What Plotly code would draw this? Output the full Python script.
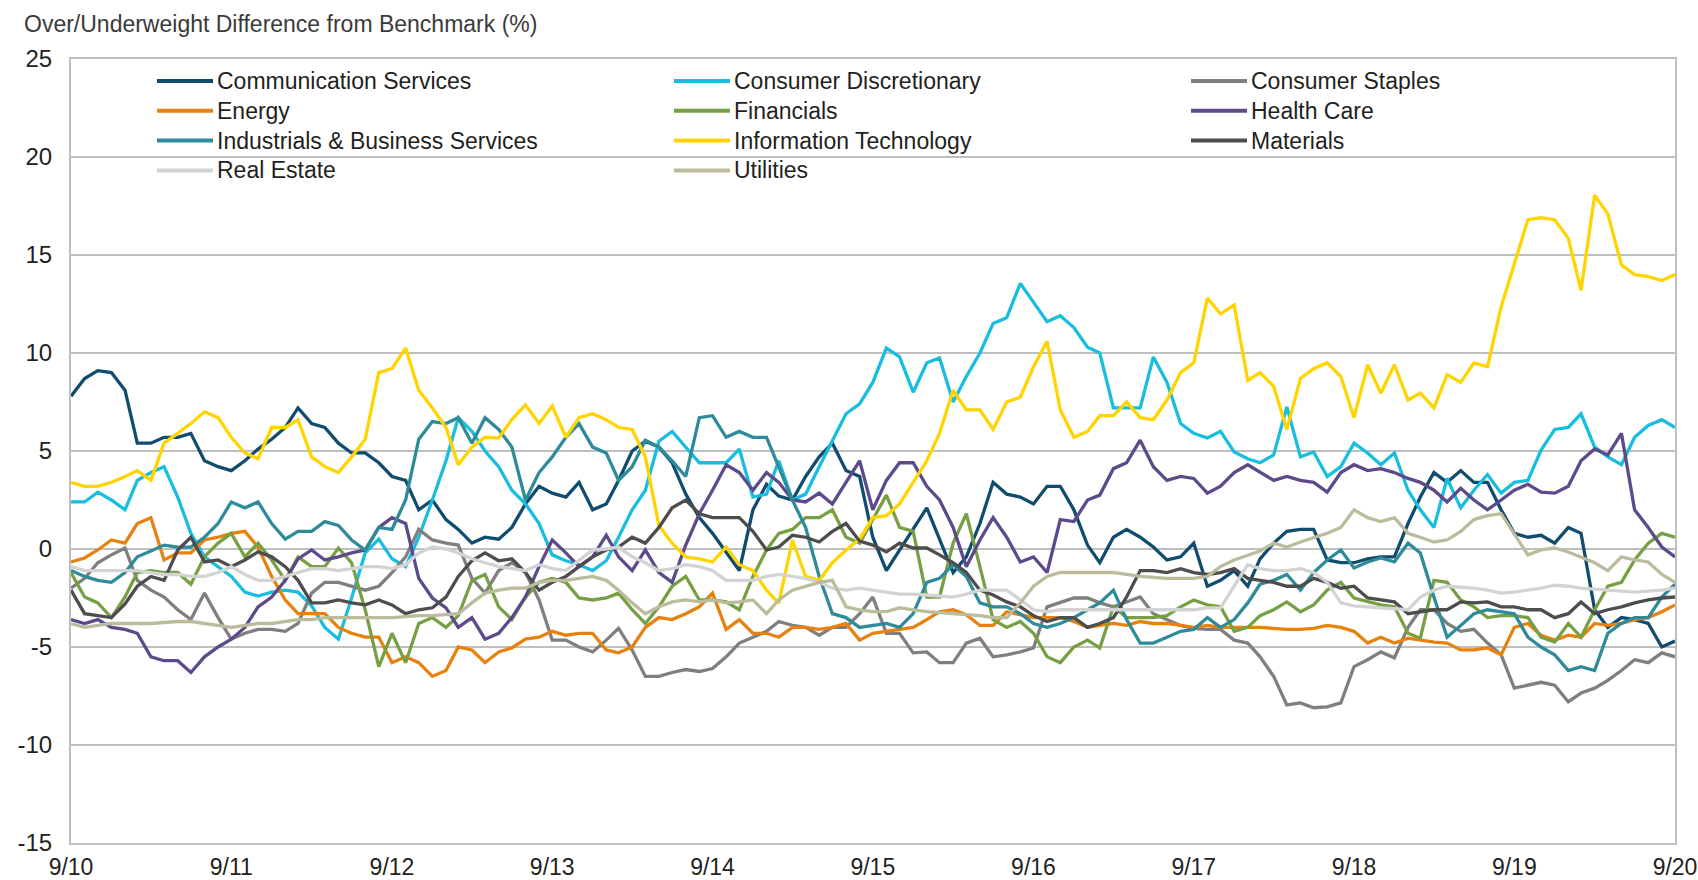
import pandas as pd
import plotly.graph_objects as go

dates = pd.date_range("2010-09-30", periods=121, freq="ME")
tick_dates = [d for d in dates if d.month == 9]
tick_labels = ["9/10", "9/11", "9/12", "9/13", "9/14", "9/15", "9/16", "9/17", "9/18", "9/19", "9/20"]
y_ticks = [-15, -10, -5, 0, 5, 10, 15, 20, 25]

communication_services = [
    7.8, 8.7, 9.1, 9.0, 8.1, 5.4, 5.4, 5.7, 5.7, 5.9, 4.5, 4.2,
    4.0, 4.5, 5.1, 5.6, 6.2, 7.2, 6.4, 6.2, 5.4, 4.9, 4.9, 4.4,
    3.7, 3.5, 2.0, 2.5, 1.5, 1.0, 0.3, 0.6, 0.5, 1.1, 2.3, 3.2,
    2.85, 2.65, 3.4, 2.0, 2.3, 3.5, 5.0, 5.5, 5.2, 4.4, 2.8, 1.6,
    0.8, -0.2, -1.1, 2.0, 3.3, 2.7, 2.5, 3.7, 4.7, 5.4, 4.0, 3.7,
    0.6, -1.1, -0.05, 1.0, 2.1, 0.5, -1.2, -0.4, 1.3, 3.4, 2.8, 2.65,
    2.3, 3.2, 3.2, 2.0, 0.2, -0.7, 0.6, 1.0, 0.6, 0.1, -0.56, -0.4,
    0.3, -1.9, -1.6, -1.1, -1.9, -0.5, 0.3, 0.9, 1.0, 1.0, -0.56, -0.7,
    -0.7, -0.5, -0.4, -0.4, 1.3, 2.65, 3.9, 3.4, 4.0, 3.4, 3.4, 2.0,
    0.8, 0.6, 0.7, 0.3, 1.1, 0.8, -3.1, -4.0, -3.5, -3.6, -3.8, -5.0,
    -4.7,
]
consumer_discretionary = [
    2.4, 2.4, 2.9, 2.5, 2.0, 3.5, 3.9, 4.2, 2.65, 0.8, -0.4, -0.9,
    -1.4, -2.2, -2.4, -2.2, -2.1, -2.2, -2.9, -4.0, -4.6, -2.5, -0.2, 0.5,
    -0.5, -0.9, 0.6, 2.5, 4.5, 6.7, 6.0, 5.0, 4.2, 3.0, 2.3, 1.3,
    -0.3, -0.6, -0.8, -1.1, -0.6, 0.6, 2.0, 3.0, 5.5, 6.0, 5.2, 4.4,
    4.4, 4.4, 5.1, 2.65, 2.8, 4.5, 2.5, 2.8, 4.2, 5.5, 6.9, 7.4,
    8.5, 10.25, 9.8, 8.0, 9.5, 9.75, 7.5, 8.8, 10.0, 11.5, 11.8, 13.55,
    12.6, 11.6, 11.9, 11.3, 10.3, 10.0, 7.2, 7.2, 7.2, 9.8, 8.5, 6.4,
    5.9, 5.66, 6.0, 4.95, 4.6, 4.4, 4.8, 7.25, 4.7, 4.95, 3.7, 4.2,
    5.4, 4.9, 4.3, 4.9, 3.0, 2.0, 1.1, 3.6, 2.1, 3.0, 3.8, 2.85,
    3.4, 3.5, 5.05, 6.1, 6.2, 6.9, 5.2, 4.7, 4.3, 5.7, 6.3, 6.6,
    6.2,
]
consumer_staples = [
    -2.0, -1.5, -0.7, -0.3, 0.05, -1.6, -2.1, -2.45, -3.1, -3.6, -2.25, -3.5,
    -4.6, -4.3, -4.1, -4.1, -4.2, -3.8, -2.25, -1.7, -1.7, -1.9, -2.1, -1.9,
    -1.2, -0.4, 1.0, 0.46, 0.3, 0.2, -1.5, -2.25, -1.1, -0.7, -1.2, -2.6,
    -4.65, -4.65, -5.0, -5.25, -4.65, -4.05, -5.15, -6.5, -6.5, -6.3, -6.15, -6.25,
    -6.1, -5.5, -4.8, -4.5, -4.2, -3.7, -3.9, -4.0, -4.4, -4.0, -4.0, -3.3,
    -2.45, -4.3, -4.3, -5.3, -5.25, -5.8, -5.8, -4.8, -4.55, -5.5, -5.4, -5.25,
    -5.05, -2.95, -2.75, -2.5, -2.5, -2.75, -2.95, -2.7, -2.45, -3.3, -3.6, -3.9,
    -4.05, -4.1, -4.1, -4.65, -4.8, -5.5, -6.5, -7.95, -7.85, -8.1, -8.05, -7.85,
    -6.0, -5.65, -5.25, -5.55, -4.0, -3.1, -3.1, -3.8, -4.2, -4.1, -4.8, -5.4,
    -7.1, -6.95, -6.8, -6.95, -7.8, -7.35, -7.1, -6.7, -6.2, -5.65, -5.8, -5.3,
    -5.5,
]
energy = [
    -0.66, -0.46, -0.05, 0.46, 0.3, 1.3, 1.6, -0.56, -0.2, -0.2, 0.46, 0.6,
    0.8, 0.9, 0.1, -1.4, -2.6, -3.3, -3.3, -3.3, -4.0, -4.3, -4.5, -4.5,
    -5.8, -5.5, -5.8, -6.5, -6.2, -5.0, -5.15, -5.8, -5.25, -5.05, -4.6, -4.5,
    -4.2, -4.4, -4.3, -4.3, -5.15, -5.3, -5.0, -4.0, -3.5, -3.6, -3.3, -2.95,
    -2.25, -4.1, -3.6, -4.3, -4.3, -4.5, -4.0, -4.0, -4.1, -4.0, -3.8, -4.65,
    -4.3, -4.2, -4.1, -4.0, -3.6, -3.2, -3.1, -3.35, -3.9, -3.9, -3.2, -3.35,
    -3.5, -3.5, -3.5, -3.7, -4.0, -3.9, -3.8, -3.9, -3.7, -3.8, -3.8, -3.9,
    -4.0, -3.9, -4.0, -4.0, -4.0, -4.0, -4.05, -4.1, -4.1, -4.05, -3.9, -4.0,
    -4.2, -4.8, -4.5, -4.8, -4.55, -4.65, -4.75, -4.8, -5.15, -5.15, -5.05, -5.4,
    -4.0, -3.8, -4.4, -4.65, -4.4, -4.5, -3.8, -3.9, -3.8, -3.6, -3.5, -3.2,
    -2.85,
]
financials = [
    -1.2, -2.45, -2.75, -3.5, -2.45, -1.2, -1.1, -1.2, -1.2, -1.8, -0.4, 0.3,
    0.8, -0.4, 0.3, -0.56, -1.6, -0.4, -0.9, -0.9, 0.05, -0.7, -3.1, -6.0,
    -4.3, -5.8, -3.8, -3.5, -4.0, -3.4, -1.6, -1.3, -2.95, -3.6, -2.45, -1.7,
    -1.5, -1.7, -2.5, -2.6, -2.5, -2.25, -3.1, -3.8, -2.95, -1.9, -1.4, -2.6,
    -2.6, -2.7, -3.1, -1.4, -0.05, 0.8, 1.0, 1.6, 1.6, 2.0, 0.6, 0.3,
    1.5, 2.75, 1.1, 0.9, -2.45, -2.45, 0.3, 1.8, -0.9, -3.6, -4.0, -3.7,
    -4.3, -5.5, -5.8, -5.0, -4.65, -5.05, -2.95, -3.5, -3.5, -3.5, -3.4, -2.95,
    -2.6, -2.85, -2.95, -4.2, -4.0, -3.4, -3.1, -2.7, -3.2, -2.85, -2.1, -1.7,
    -2.5, -2.7, -2.85, -2.95, -4.3, -4.55, -1.6, -1.7, -2.6, -2.95, -3.5, -3.4,
    -3.4, -3.5, -4.5, -4.75, -3.8, -4.5, -3.1, -1.9, -1.7, -0.56, 0.3, 0.8,
    0.6,
]
health_care = [
    -3.6, -3.8, -3.6, -4.0, -4.1, -4.3, -5.5, -5.7, -5.7, -6.3, -5.5, -5.0,
    -4.6, -4.0, -2.95, -2.45, -1.6, -0.5, -0.05, -0.56, -0.4, -0.2, -0.05, 1.1,
    1.6, 1.3, -1.5, -2.5, -3.0, -4.0, -3.5, -4.6, -4.3, -3.5, -2.45, -0.9,
    0.46, -0.2, -0.9, -0.4, 0.7, -0.4, -1.1, -0.05, -1.2, -1.7, 0.2, 1.8,
    3.0, 4.3, 3.9, 3.0, 3.9, 3.4, 2.5, 2.4, 2.85, 2.3, 3.4, 4.5,
    2.0, 3.5, 4.4, 4.4, 3.2, 2.5, 1.1, -0.9, 0.46, 1.6, 0.6, -0.66,
    -0.4, -1.2, 1.5, 1.4, 2.5, 2.75, 4.1, 4.4, 5.55, 4.2, 3.5, 3.7,
    3.6, 2.85, 3.2, 3.9, 4.3, 3.9, 3.5, 3.7, 3.5, 3.4, 2.9, 3.9,
    4.3, 4.0, 4.1, 3.9, 3.6, 3.4, 3.0, 2.4, 3.1, 2.5, 2.0, 2.5,
    3.0, 3.3, 2.9, 2.85, 3.2, 4.5, 5.1, 4.8, 5.9, 2.0, 1.1, 0.1,
    -0.4,
]
industrials = [
    -1.1, -1.4, -1.6, -1.7, -1.2, -0.4, -0.1, 0.2, 0.1, 0.1, 0.6, 1.3,
    2.4, 2.1, 2.4, 1.3, 0.5, 0.9, 0.9, 1.4, 1.2, 0.46, -0.05, 1.1,
    1.0, 2.5, 5.6, 6.5, 6.4, 6.7, 5.4, 6.7, 6.1, 5.2, 2.5, 3.9,
    4.7, 5.7, 6.4, 5.2, 4.9, 3.5, 4.2, 5.55, 5.2, 4.5, 3.7, 6.7,
    6.8, 5.7, 6.0, 5.7, 5.7, 4.2, 2.5, 1.1, -1.4, -3.3, -3.5, -4.0,
    -3.9, -3.8, -4.0, -3.3, -1.7, -1.5, -0.8, -1.4, -2.75, -2.95, -2.95, -3.3,
    -3.8, -4.0, -3.8, -3.5, -3.1, -2.75, -2.1, -3.6, -4.8, -4.8, -4.5, -4.2,
    -4.1, -3.5, -4.0, -3.6, -2.75, -1.8, -1.6, -1.3, -2.1, -1.2, -0.56, -0.05,
    -0.97, -0.66, -0.46, -0.66, 0.3, -0.2, -2.45, -4.5, -3.9, -3.3, -3.1, -3.2,
    -3.3, -4.5, -5.0, -5.4, -6.2, -6.0, -6.2, -4.3, -3.8, -3.5, -3.5, -2.45,
    -1.8,
]
information_technology = [
    3.4, 3.2, 3.2, 3.4, 3.7, 4.0, 3.5, 5.4, 5.9, 6.4, 7.0, 6.7,
    5.7, 4.9, 4.6, 6.2, 6.2, 6.6, 4.7, 4.2, 3.9, 4.7, 5.6, 9.0,
    9.2, 10.25, 8.1, 7.2, 6.2, 4.3, 5.2, 5.7, 5.66, 6.6, 7.35, 6.4,
    7.3, 5.7, 6.7, 6.9, 6.6, 6.2, 6.1, 4.7, 1.2, 0.3, -0.4, -0.5,
    -0.66, 0.1, -0.8, -1.1, -2.1, -2.76, 0.46, -1.4, -1.6, -0.7, -0.05, 0.5,
    1.6, 1.7, 2.3, 3.4, 4.5, 5.9, 8.1, 7.1, 7.1, 6.1, 7.5, 7.75,
    9.3, 10.6, 7.1, 5.7, 6.0, 6.8, 6.8, 7.5, 6.7, 6.6, 7.6, 9.0,
    9.5, 12.8, 12.0, 12.45, 8.6, 9.0, 8.3, 6.1, 8.7, 9.2, 9.5, 8.8,
    6.7, 9.4, 7.95, 9.4, 7.6, 7.95, 7.2, 8.9, 8.5, 9.5, 9.3, 12.35,
    14.6, 16.8, 16.9, 16.8, 15.85, 13.2, 18.05, 17.1, 14.5, 14.0, 13.9, 13.7,
    14.0,
]
materials = [
    -2.1, -3.3, -3.4, -3.5, -2.8, -1.9, -1.4, -1.6, -0.05, 0.6, -0.66, -0.56,
    -0.9, -0.56, -0.15, -0.4, -0.9, -1.6, -2.75, -2.75, -2.6, -2.75, -2.85, -2.6,
    -2.85, -3.3, -3.1, -3.0, -2.45, -1.4, -0.6, -0.2, -0.6, -0.5, -1.2, -2.1,
    -1.7, -1.4, -0.9, -0.4, -0.05, 0.1, 0.6, 0.3, 1.1, 2.1, 2.5, 1.8,
    1.6, 1.6, 1.6, 0.9, -0.05, 0.1, 0.7, 0.6, 0.36, 0.9, 1.3, 0.4,
    0.2, -0.15, 0.3, 0.05, 0.05, -0.3, -0.7, -1.2, -2.1, -2.35, -2.7, -2.95,
    -3.4, -3.7, -3.5, -3.5, -4.0, -3.8, -3.5, -2.45, -1.1, -1.1, -1.2, -1.0,
    -1.2, -1.3, -1.2, -1.0, -1.5, -1.6, -1.7, -1.9, -1.9, -1.5, -1.7, -2.0,
    -1.9, -2.5, -2.6, -2.7, -3.3, -3.2, -3.1, -3.1, -2.7, -2.75, -2.7, -2.95,
    -2.95, -3.1, -3.1, -3.5, -3.3, -2.7, -3.3, -3.1, -2.95, -2.75, -2.6, -2.5,
    -2.45,
]
real_estate = [
    -0.9, -1.1, -1.1, -1.1, -1.1, -1.1, -1.2, -1.3, -1.3, -1.4, -1.4, -1.2,
    -0.9, -1.3, -1.6, -1.6, -1.4, -1.2, -1.0, -1.0, -1.1, -1.0, -0.9, -0.9,
    -1.0, -0.8, -0.2, 0.1, 0.0, -0.2, -0.5, -0.7, -0.9, -1.0, -1.1, -0.8,
    -1.0, -1.1, -0.6, -0.05, 0.0, 0.1, -0.4, -0.7, -1.1, -1.0, -0.8, -0.9,
    -1.1, -1.6, -1.6, -1.6, -1.4, -1.3, -1.4, -1.5, -1.7, -2.0, -2.1, -2.0,
    -2.1, -2.2, -2.3, -2.3, -2.35, -2.4, -2.45, -2.3, -2.1, -2.1, -2.1, -2.6,
    -3.1, -3.2, -3.1, -3.1, -3.1, -3.1, -3.1, -3.1, -3.1, -3.1, -3.1, -3.1,
    -3.1, -3.0, -3.0, -1.9, -0.8, -1.0, -1.1, -1.1, -1.0, -1.2, -1.7, -2.75,
    -2.9, -2.95, -3.0, -3.05, -3.1, -2.45, -2.1, -1.9, -1.95, -2.0, -2.1, -2.25,
    -2.2, -2.1, -2.0, -1.85, -1.9, -2.0, -2.05, -2.1, -2.15, -2.2, -2.15, -2.1,
    -2.0,
]
utilities = [
    -3.8, -4.0, -3.9, -3.8, -3.8, -3.8, -3.8, -3.75, -3.7, -3.7, -3.8, -3.9,
    -4.0, -3.9, -3.8, -3.8, -3.7, -3.6, -3.6, -3.5, -3.5, -3.5, -3.5, -3.5,
    -3.5, -3.45, -3.4, -3.4, -3.35, -3.3, -2.75, -2.25, -2.1, -2.0, -2.0, -1.7,
    -1.6, -1.6, -1.5, -1.4, -1.6, -2.1, -2.75, -3.3, -2.95, -2.7, -2.6, -2.7,
    -2.6, -2.75, -2.7, -2.6, -3.3, -2.6, -2.1, -1.9, -1.7, -1.6, -2.95, -3.1,
    -3.2, -3.2, -3.0, -3.1, -3.2, -3.25, -3.3, -3.35, -3.4, -3.5, -3.5, -2.75,
    -1.9, -1.4, -1.2, -1.2, -1.2, -1.2, -1.2, -1.3, -1.4, -1.45, -1.5, -1.5,
    -1.5, -1.4, -0.9, -0.56, -0.3, -0.1, 0.3, 0.1, 0.36, 0.56, 0.8, 1.1,
    2.0, 1.6, 1.4, 1.6, 0.8, 0.6, 0.36, 0.46, 0.9, 1.5, 1.7, 1.8,
    0.8, -0.3, -0.05, 0.05, -0.15, -0.4, -0.7, -1.1, -0.4, -0.56, -0.66, -1.3,
    -1.7,
]

series = [
    ("Communication Services", communication_services, "#0F4C6E"),
    ("Consumer Discretionary", consumer_discretionary, "#18BDDF"),
    ("Consumer Staples", consumer_staples, "#7F7F7F"),
    ("Energy", energy, "#E8820E"),
    ("Financials", financials, "#77A044"),
    ("Health Care", health_care, "#5D4A8A"),
    ("Industrials & Business Services", industrials, "#2E8C9A"),
    ("Information Technology", information_technology, "#FFD400"),
    ("Materials", materials, "#4D4D4D"),
    ("Real Estate", real_estate, "#D3D3D3"),
    ("Utilities", utilities, "#BCBC9D"),
]

FONT = "Liberation Sans, Arial, sans-serif"
W, H = 1698, 880
ML, MR, MT, MB = 71, 23, 59, 37
PW, PH = W - ML - MR, H - MT - MB


def px_to_paper_x(px):
    return (px - ML) / PW


def px_to_paper_y(py):
    return (H - MB - py) / PH


fig = go.Figure()
for name, vals, color in series:
    fig.add_trace(go.Scatter(
        x=dates, y=vals, name=name, mode="lines",
        line=dict(color=color, width=3.3), showlegend=False,
    ))

# legend drawn as a 3-column grid (row-major order like the reference)
shapes, annotations = [], []
for i, (name, _, color) in enumerate(series):
    col, row = i % 3, i // 3
    text_px = 215 + 517 * col
    row_py = 81 + 29.8 * row
    yy = px_to_paper_y(row_py)
    shapes.append(dict(
        type="line", xref="paper", yref="paper",
        x0=px_to_paper_x(text_px - 58), x1=px_to_paper_x(text_px - 2),
        y0=yy, y1=yy, line=dict(color=color, width=4),
    ))
    annotations.append(dict(
        text=name, xref="paper", yref="paper",
        x=px_to_paper_x(text_px), y=yy, xanchor="left", yanchor="middle",
        showarrow=False, font=dict(family=FONT, size=23, color="#231F20"),
    ))

annotations.append(dict(
    text="Over/Underweight Difference from Benchmark (%)",
    xref="paper", yref="paper", x=px_to_paper_x(22), y=px_to_paper_y(24),
    xanchor="left", yanchor="middle", showarrow=False,
    font=dict(family=FONT, size=23, color="#3A3A3A"),
))

fig.update_layout(
    width=W, height=H,
    margin=dict(l=ML, r=MR, t=MT, b=MB),
    paper_bgcolor="white", plot_bgcolor="white",
    font=dict(family=FONT, size=23, color="#231F20"),
    showlegend=False,
    shapes=shapes, annotations=annotations,
)
fig.update_xaxes(
    range=[dates[0], dates[-1]],
    tickvals=tick_dates, ticktext=tick_labels,
    showgrid=False, zeroline=False, automargin=False,
    showline=True, linecolor="#BFBFBF", linewidth=2, mirror=True,
    ticks="", ticklabelstandoff=2,
    tickfont=dict(family=FONT, size=23, color="#231F20"),
)
fig.update_yaxes(
    range=[-15, 25],
    tickvals=y_ticks, ticktext=[str(v) for v in y_ticks],
    showgrid=True, gridcolor="#BFBFBF", gridwidth=2, zeroline=False,
    automargin=False,
    showline=True, linecolor="#BFBFBF", linewidth=2, mirror=True,
    ticks="", ticklabelstandoff=12,
    tickfont=dict(family=FONT, size=24, color="#231F20"),
)

# remove the default 8px page margin so the figure sits at the window origin
fig.write_html(
    "out.html",
    config={"displayModeBar": False},
    post_script="document.body.style.margin='0';document.body.style.overflow='hidden';",
)
